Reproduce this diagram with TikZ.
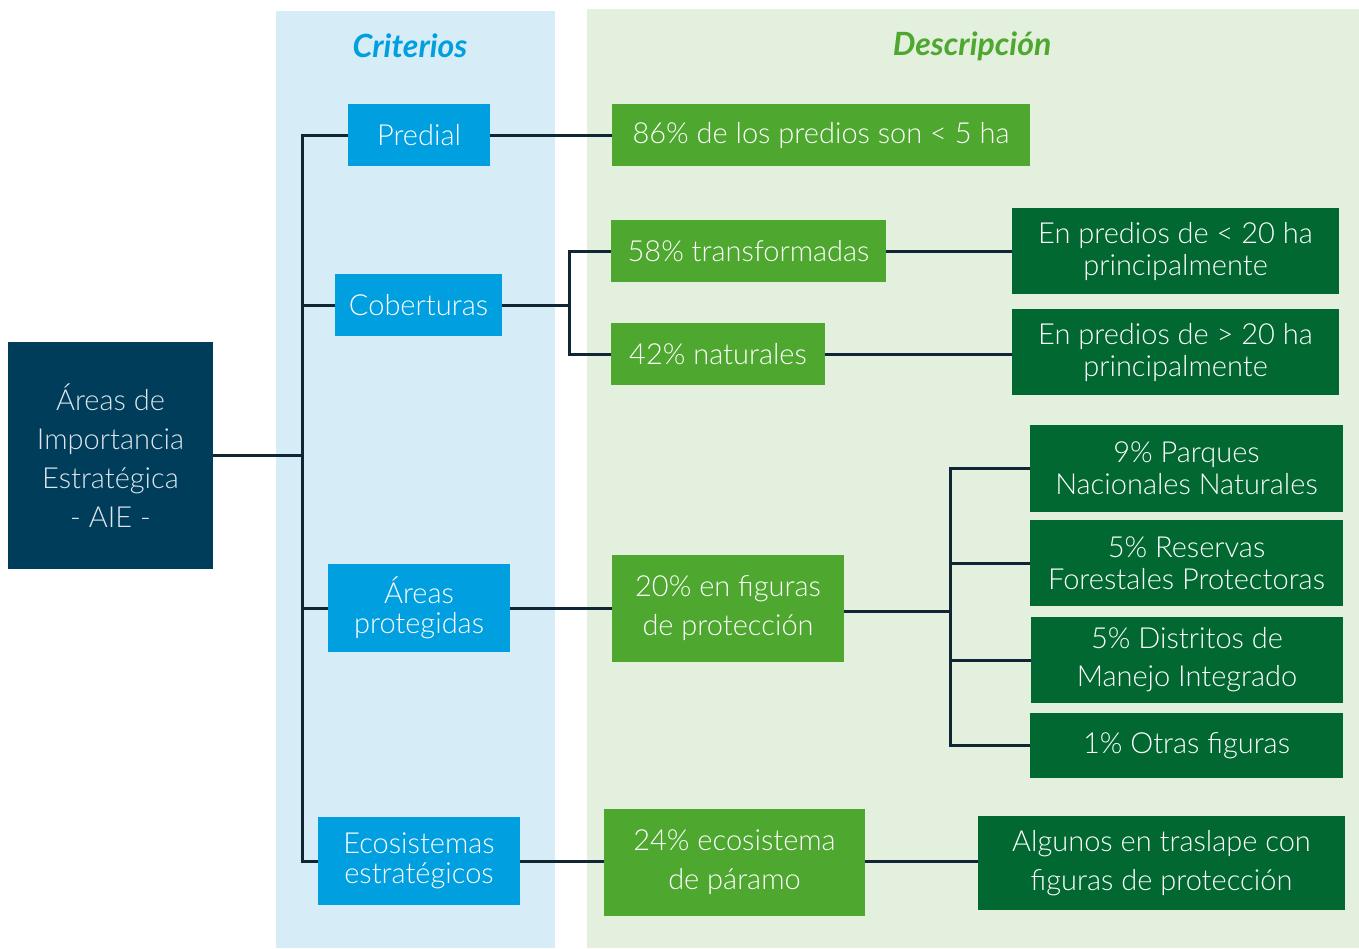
\documentclass[tikz,border=0pt]{standalone}
\usepackage{fontspec}
\setmainfont{Lato Light}[BoldFont={Lato Bold}, BoldItalicFont={Lato Bold Italic}]
\definecolor{critbg}{RGB}{214,237,248}
\definecolor{descbg}{RGB}{228,240,222}
\definecolor{critblue}{RGB}{0,159,223}
\definecolor{lightgreen}{RGB}{78,167,46}
\definecolor{darkgreen}{RGB}{0,104,48}
\definecolor{navy}{RGB}{0,61,90}
\definecolor{linecol}{RGB}{16,38,52}
\begin{document}
\begin{tikzpicture}[x=0.5pt, y=-0.5pt,
    box/.style = {inner sep=0pt, align=center, text=white, font=\fontsize{14.5}{19.5}\selectfont},
    tight/.style = {font=\fontsize{14.5}{#1}\selectfont},
    crit/.style = {box, fill=critblue, tight=15},
    desc/.style = {box, fill=lightgreen},
    detail/.style = {box, fill=darkgreen, tight=16},
    link/.style = {draw=linecol, line width=1.5pt},
    title/.style = {font=\fontsize{16}{18}\selectfont\bfseries\itshape}]
    \useasboundingbox (0,0) rectangle (1359,948);
    \fill[critbg] (276,11) rectangle (555,948);
    \fill[descbg] (587,9) rectangle (1359,948);
    \node[title, text=critblue] (tcrit) at (410,46) {Criterios};
    \node[title, text=lightgreen] (tdesc) at (972,46) {Descripción};

    \node[box, fill=navy, text={rgb,255:red,222;green,230;blue,236}, minimum width=102.5pt, minimum height=113.5pt] (aie) at (110.5,455.5) {Áreas de\\Importancia\\Estratégica\\- AIE -};

    \node[crit, minimum width=71pt, minimum height=31pt] (predial) at (419,135) {Predial};
    \node[crit, minimum width=83.5pt, minimum height=31pt] (cober) at (418.5,305) {Coberturas};
    \node[crit, minimum width=91pt, minimum height=44pt] (areas) at (419,608) {Áreas\\protegidas};
    \node[crit, minimum width=101pt, minimum height=44pt] (ecos) at (419,861) {Ecosistemas\\estratégicos};

    \node[desc, minimum width=209pt, minimum height=31pt] (p86) at (821,135) {86\% de los predios son < 5 ha};
    \node[desc, minimum width=137.5pt, minimum height=31pt] (p58) at (748.5,251) {58\% transformadas};
    \node[desc, minimum width=107pt, minimum height=31pt] (p42) at (718,354) {42\% naturales};
    \node[desc, minimum width=116pt, minimum height=53.5pt] (p20) at (728,608.5) {20\% en figuras\\de protección};
    \node[desc, minimum width=130.5pt, minimum height=53.5pt] (p24) at (734.5,862.5) {24\% ecosistema\\de páramo};

    \node[detail, minimum width=163.5pt, minimum height=43pt] (menor) at (1175.5,251) {En predios de < 20 ha\\principalmente};
    \node[detail, minimum width=163.5pt, minimum height=43pt] (mayor) at (1175.5,352) {En predios de > 20 ha\\principalmente};
    \node[detail, minimum width=156.5pt, minimum height=43.5pt] (pnn) at (1186.5,468.5) {9\% Parques\\Nacionales Naturales};
    \node[detail, minimum width=156.5pt, minimum height=43pt] (rfp) at (1186.5,563) {5\% Reservas\\Forestales Protectoras};
    \node[detail, tight=19, minimum width=156pt, minimum height=43pt] (dmi) at (1187,660) {5\% Distritos de\\Manejo Integrado};
    \node[detail, minimum width=156.5pt, minimum height=32.5pt] (otras) at (1186.5,745.5) {1\% Otras figuras};
    \node[detail, tight=19.5, minimum width=183.5pt, minimum height=47pt] (algunos) at (1161.5,863) {Algunos en traslape con\\figuras de protección};

    % criterios
    \coordinate (busT) at (302,135);
    \coordinate (busB) at (302,861);
    \draw[link] (predial.west) -- (busT) -- (busB) -- (ecos.west);
    \draw[link] (aie.east) -- (aie.east -| busT);
    \draw[link] (cober.west) -- (cober.west -| busT);
    \draw[link] (areas.west) -- (areas.west -| busT);

    % descripcion
    \draw[link] (predial.east) -- (p86.west |- predial.east);
    \coordinate (forkC) at (569,305);
    \draw[link] (cober.east) -- (forkC);
    \draw[link] (p58.west) -| (forkC) |- (p42.west);
    \draw[link] (p58.east) -- (menor.west |- p58.east);
    \draw[link] (p42.east) -- (mayor.west |- p42.east);
    \draw[link] (areas.east) -- (p20.west |- areas.east);
    \coordinate (forkP) at (950,611);
    \draw[link] (p20.east |- forkP) -- (forkP);
    \draw[link] (pnn.west) -| (forkP) |- (otras.west);
    \draw[link] (rfp.west) -- (rfp.west -| forkP);
    \draw[link] (dmi.west) -- (dmi.west -| forkP);
    \draw[link] (ecos.east) -- (p24.west |- ecos.east);
    \draw[link] (p24.east |- ecos.east) -- (algunos.west |- ecos.east);
\end{tikzpicture}
\end{document}
